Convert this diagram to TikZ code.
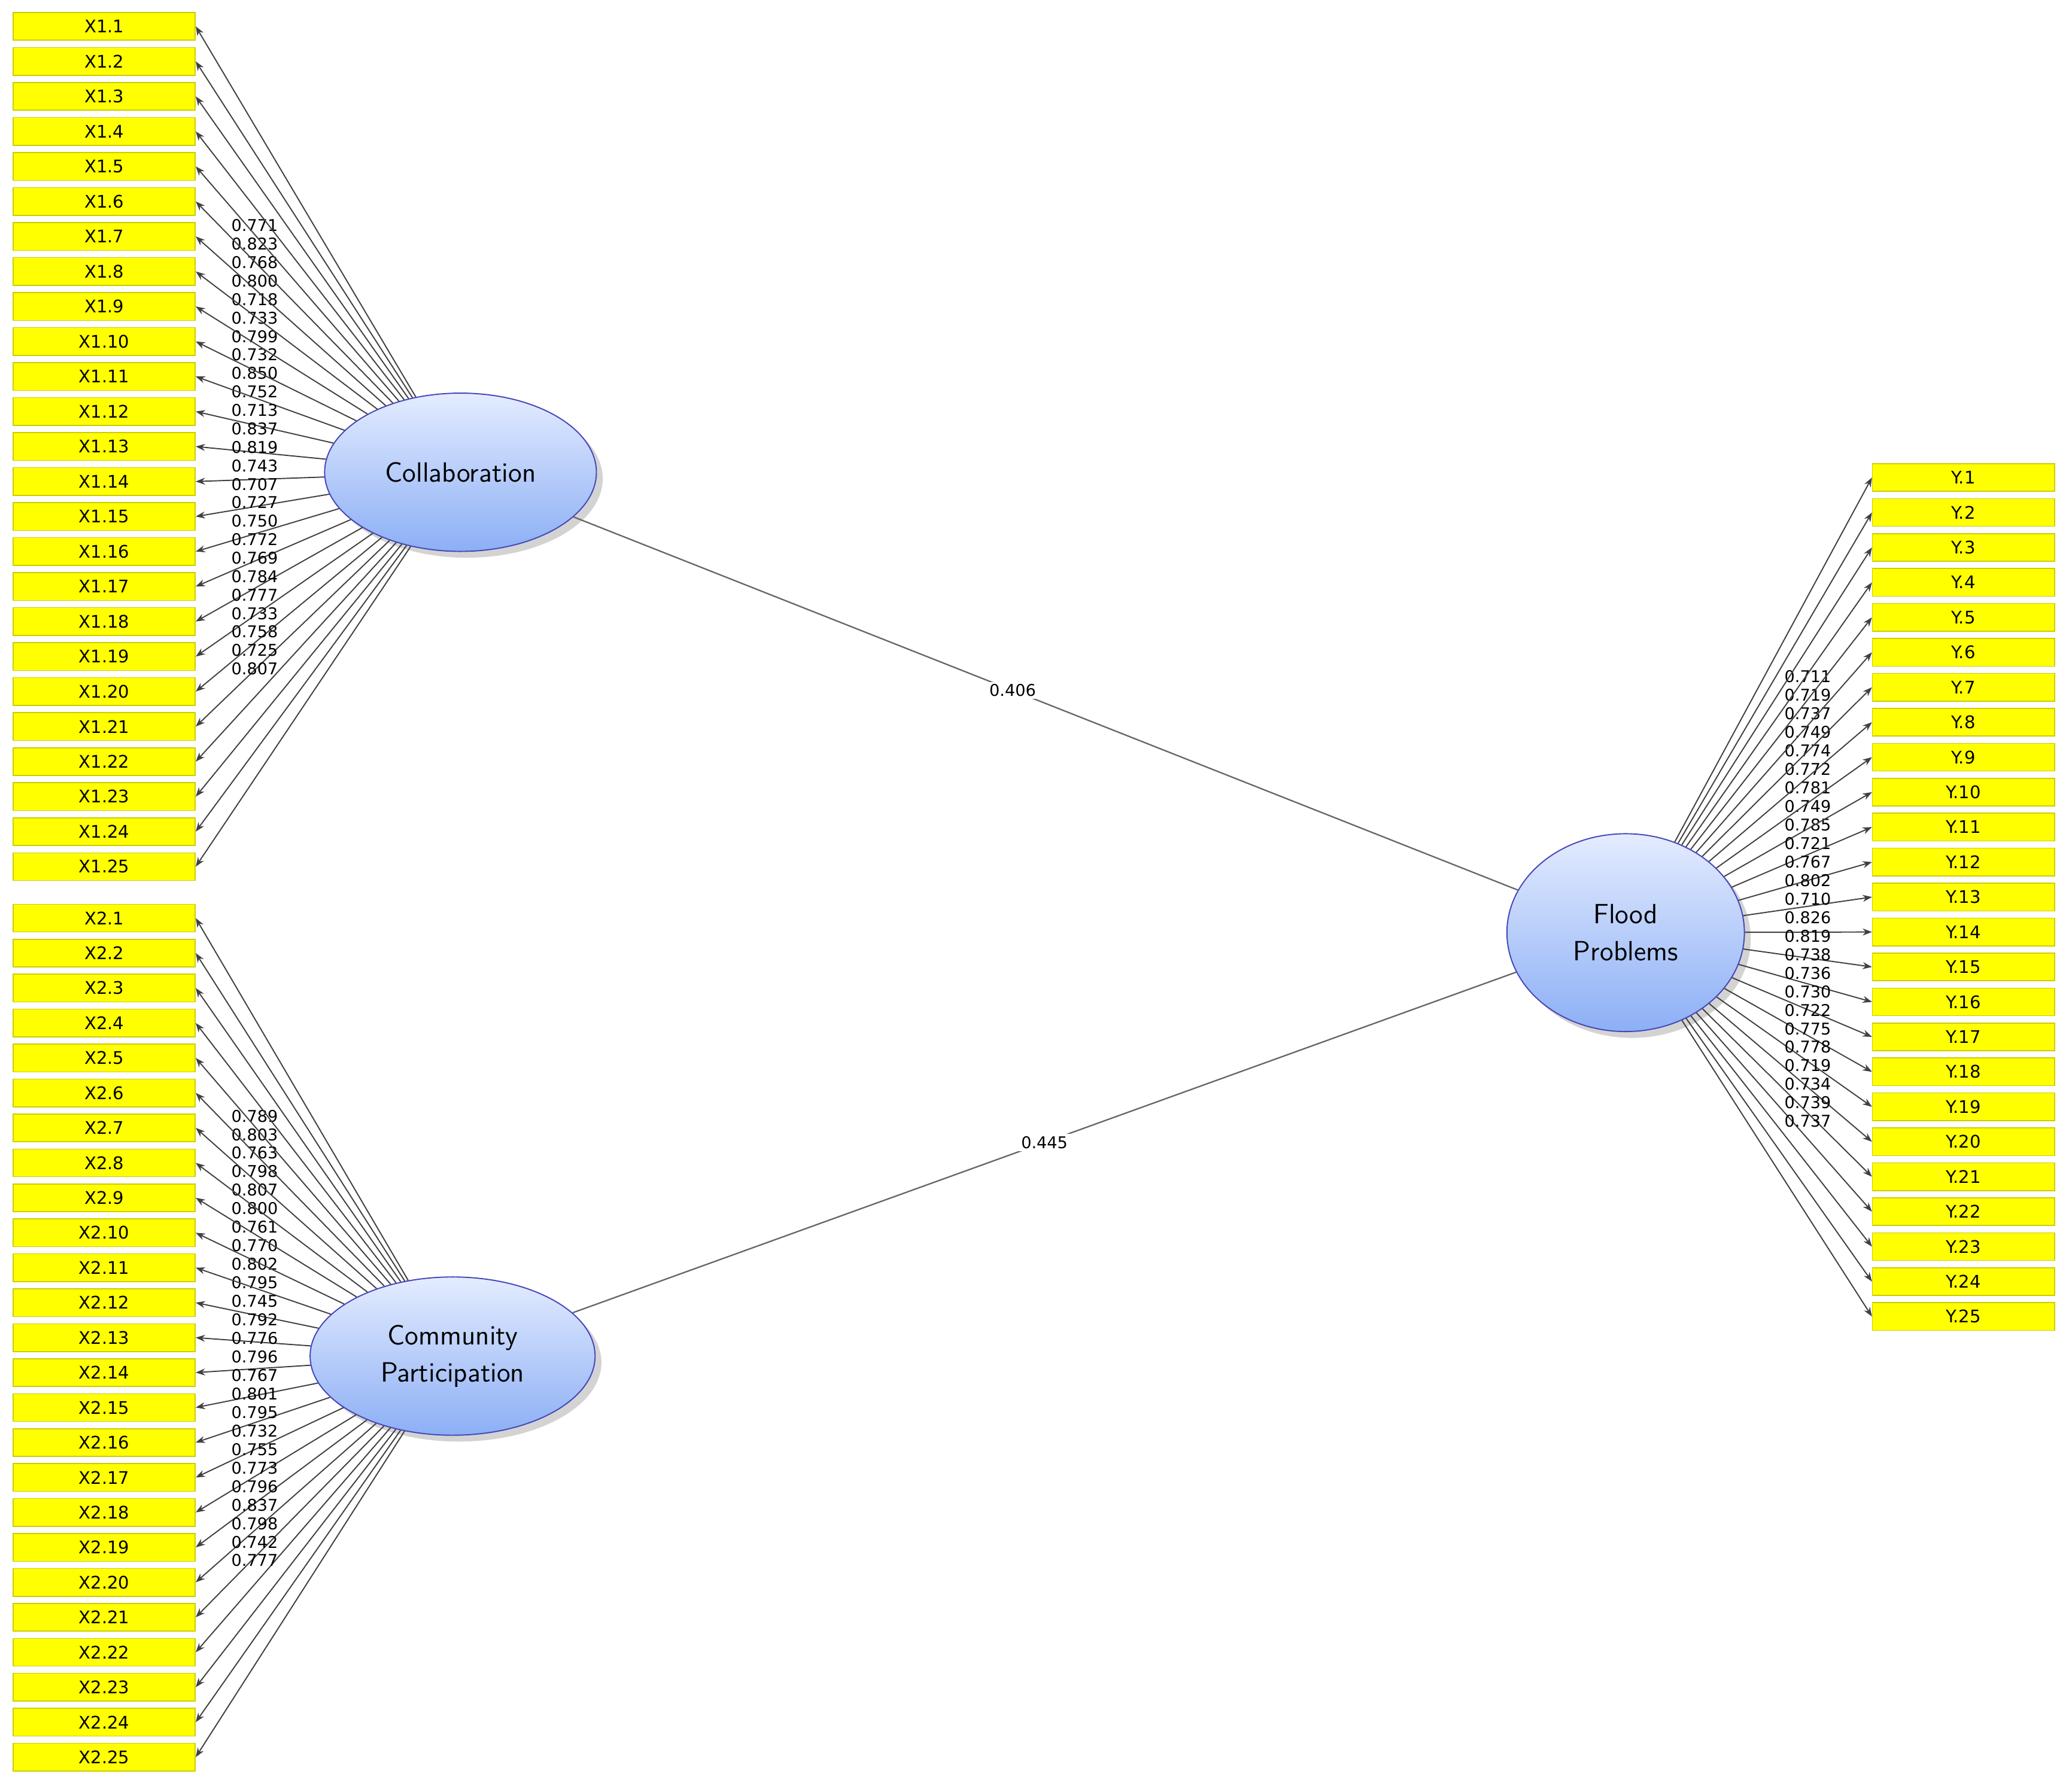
\documentclass[tikz,border=0pt]{standalone}
\usepackage{fontspec}
\setmainfont{DejaVu Sans}
\usetikzlibrary{shapes.geometric,arrows.meta,shadows}
\definecolor{boxy}{RGB}{255,255,0}
\definecolor{elltop}{RGB}{228,236,255}
\definecolor{ellbot}{RGB}{140,175,245}
\tikzset{
 ind/.style={draw=boxy!80!black,fill=boxy,minimum width=2.76cm,minimum height=0.42cm,inner sep=0pt,font=\fontsize{7.5}{8}\selectfont},
 lat/.style={ellipse,draw=blue!45!gray,line width=0.5pt,top color=elltop,bottom color=ellbot,drop shadow={opacity=0.35},align=center,font=\fontsize{12}{16}\selectfont\sffamily},
 load/.style={draw=black!75,line width=0.5pt,-{Stealth[length=4pt,width=3pt]}},
 lab/.style={font=\fontsize{7}{7}\selectfont,inner sep=0pt},
 path/.style={draw=gray!80!black,line width=0.6pt}
}
\begin{document}
\begin{tikzpicture}[x=0.02cm,y=-0.02cm]
\useasboundingbox (0,0) rectangle (1568,1358);
\foreach \i in {1,...,25}{
  \node[ind] (xa\i) at (79,{20+26.54*(\i-1)}) {X1.\i};
  \node[ind] (xb\i) at (79,{696+26.5*(\i-1)}) {X2.\i};
  \node[ind] (y\i) at (1488,{362+26.5*(\i-1)}) {Y.\i};
}
\node[lat,minimum width=4.12cm,minimum height=2.4cm] (coll) at (349,358) {Collaboration};
\node[lat,minimum width=4.32cm,minimum height=2.4cm] (comm) at (343,1028) {Community\\Participation};
\node[lat,minimum width=3.6cm,minimum height=3.0cm] (flood) at (1232,707) {Flood\\Problems};
\draw[path] (coll) -- node[lab,pos=0.465,fill=white,inner sep=1pt]{0.406} (flood);
\draw[path] (comm) -- node[lab,pos=0.50,fill=white,inner sep=1pt]{0.445} (flood);
\foreach \v [count=\i] in {0.771,0.823,0.768,0.800,0.718,0.733,0.799,0.732,0.850,0.752,0.713,0.837,0.819,0.743,0.707,0.727,0.750,0.772,0.769,0.784,0.777,0.733,0.758,0.725,0.807}{
  \draw[load] (coll) -- (xa\i.east);
  \node[lab] (la\i) at (193,{171+14*(\i-1)}) {\v};
}
\foreach \v [count=\i] in {0.789,0.803,0.763,0.798,0.807,0.800,0.761,0.770,0.802,0.795,0.745,0.792,0.776,0.796,0.767,0.801,0.795,0.732,0.755,0.773,0.796,0.837,0.798,0.742,0.777}{
  \draw[load] (comm) -- (xb\i.east);
  \node[lab] (lb\i) at (193,{846+14.04*(\i-1)}) {\v};
}
\foreach \v [count=\i] in {0.711,0.719,0.737,0.749,0.774,0.772,0.781,0.749,0.785,0.721,0.767,0.802,0.710,0.826,0.819,0.738,0.736,0.730,0.722,0.775,0.778,0.719,0.734,0.739,0.737}{
  \draw[load] (flood) -- (y\i.west);
  \node[lab] (lc\i) at (1370,{513+14.04*(\i-1)}) {\v};
}
\end{tikzpicture}
\end{document}
